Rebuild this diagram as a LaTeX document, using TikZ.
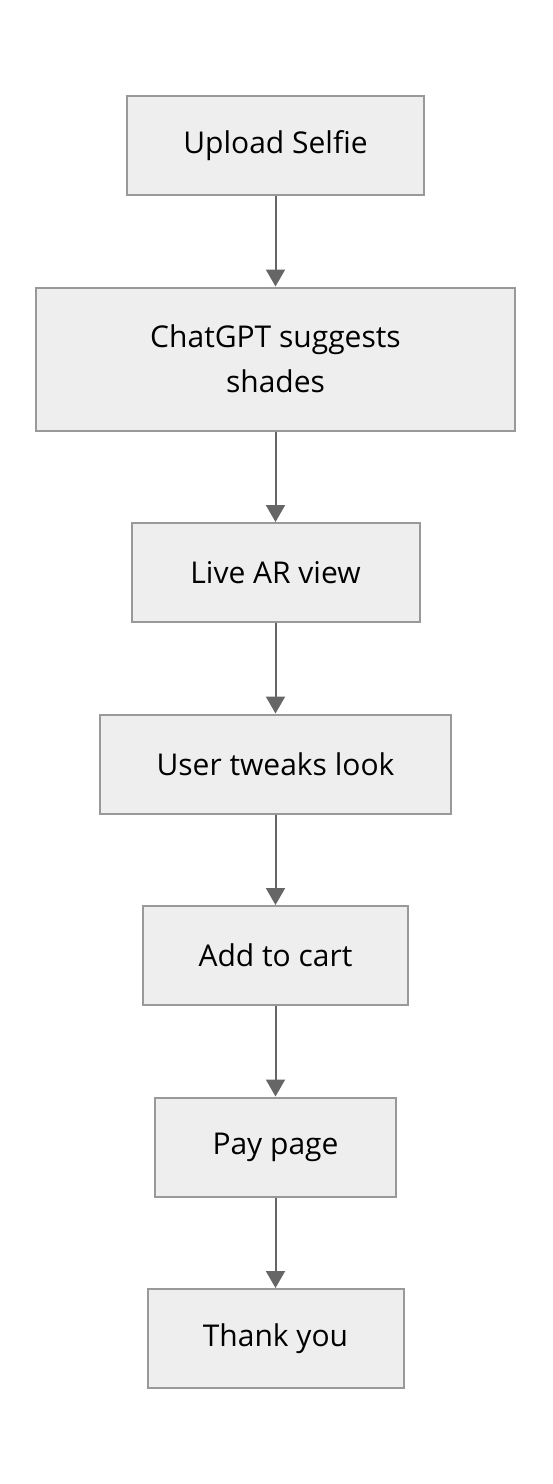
\documentclass[tikz,border=0pt]{standalone}
\usepackage{fontspec}
\setmainfont{Open Sans}
\usetikzlibrary{arrows.meta,positioning}
\definecolor{boxfill}{HTML}{EEEEEE}
\definecolor{boxline}{HTML}{999999}
\definecolor{flowline}{HTML}{666666}
\tikzstyle{block} = [rectangle, draw=boxline, line width=2pt, fill=boxfill,
    text centered, inner xsep=0pt, minimum height=99pt,
    font=\fontsize{30}{45}\selectfont]

\begin{document}
\begin{tikzpicture}[-{Triangle[width=19pt,length=17pt]},draw=flowline,
                    line width=2pt,node distance=90.5pt,x=1pt,y=1pt]
  \useasboundingbox (0,0) rectangle (552,-1484);
  \node[block,minimum width=297pt] (upload) at (275.5,-145.5) {Upload Selfie};
  \node[block,minimum width=479pt,minimum height=143pt,align=center]
        (suggest) [below=of upload] {ChatGPT suggests\\shades};
  \node[block,minimum width=288pt] (arview) [below=of suggest] {Live AR view};
  \node[block,minimum width=351pt] (tweak)  [below=of arview] {User tweaks look};
  \node[block,minimum width=265pt] (cart)   [below=of tweak] {Add to cart};
  \node[block,minimum width=241pt] (pay)    [below=of cart] {Pay page};
  \node[block,minimum width=256pt] (thanks) [below=of pay] {Thank you};

  \draw (upload) -- (suggest);
  \draw (suggest) -- (arview);
  \draw (arview) -- (tweak);
  \draw (tweak) -- (cart);
  \draw (cart) -- (pay);
  \draw (pay) -- (thanks);
\end{tikzpicture}
\end{document}
